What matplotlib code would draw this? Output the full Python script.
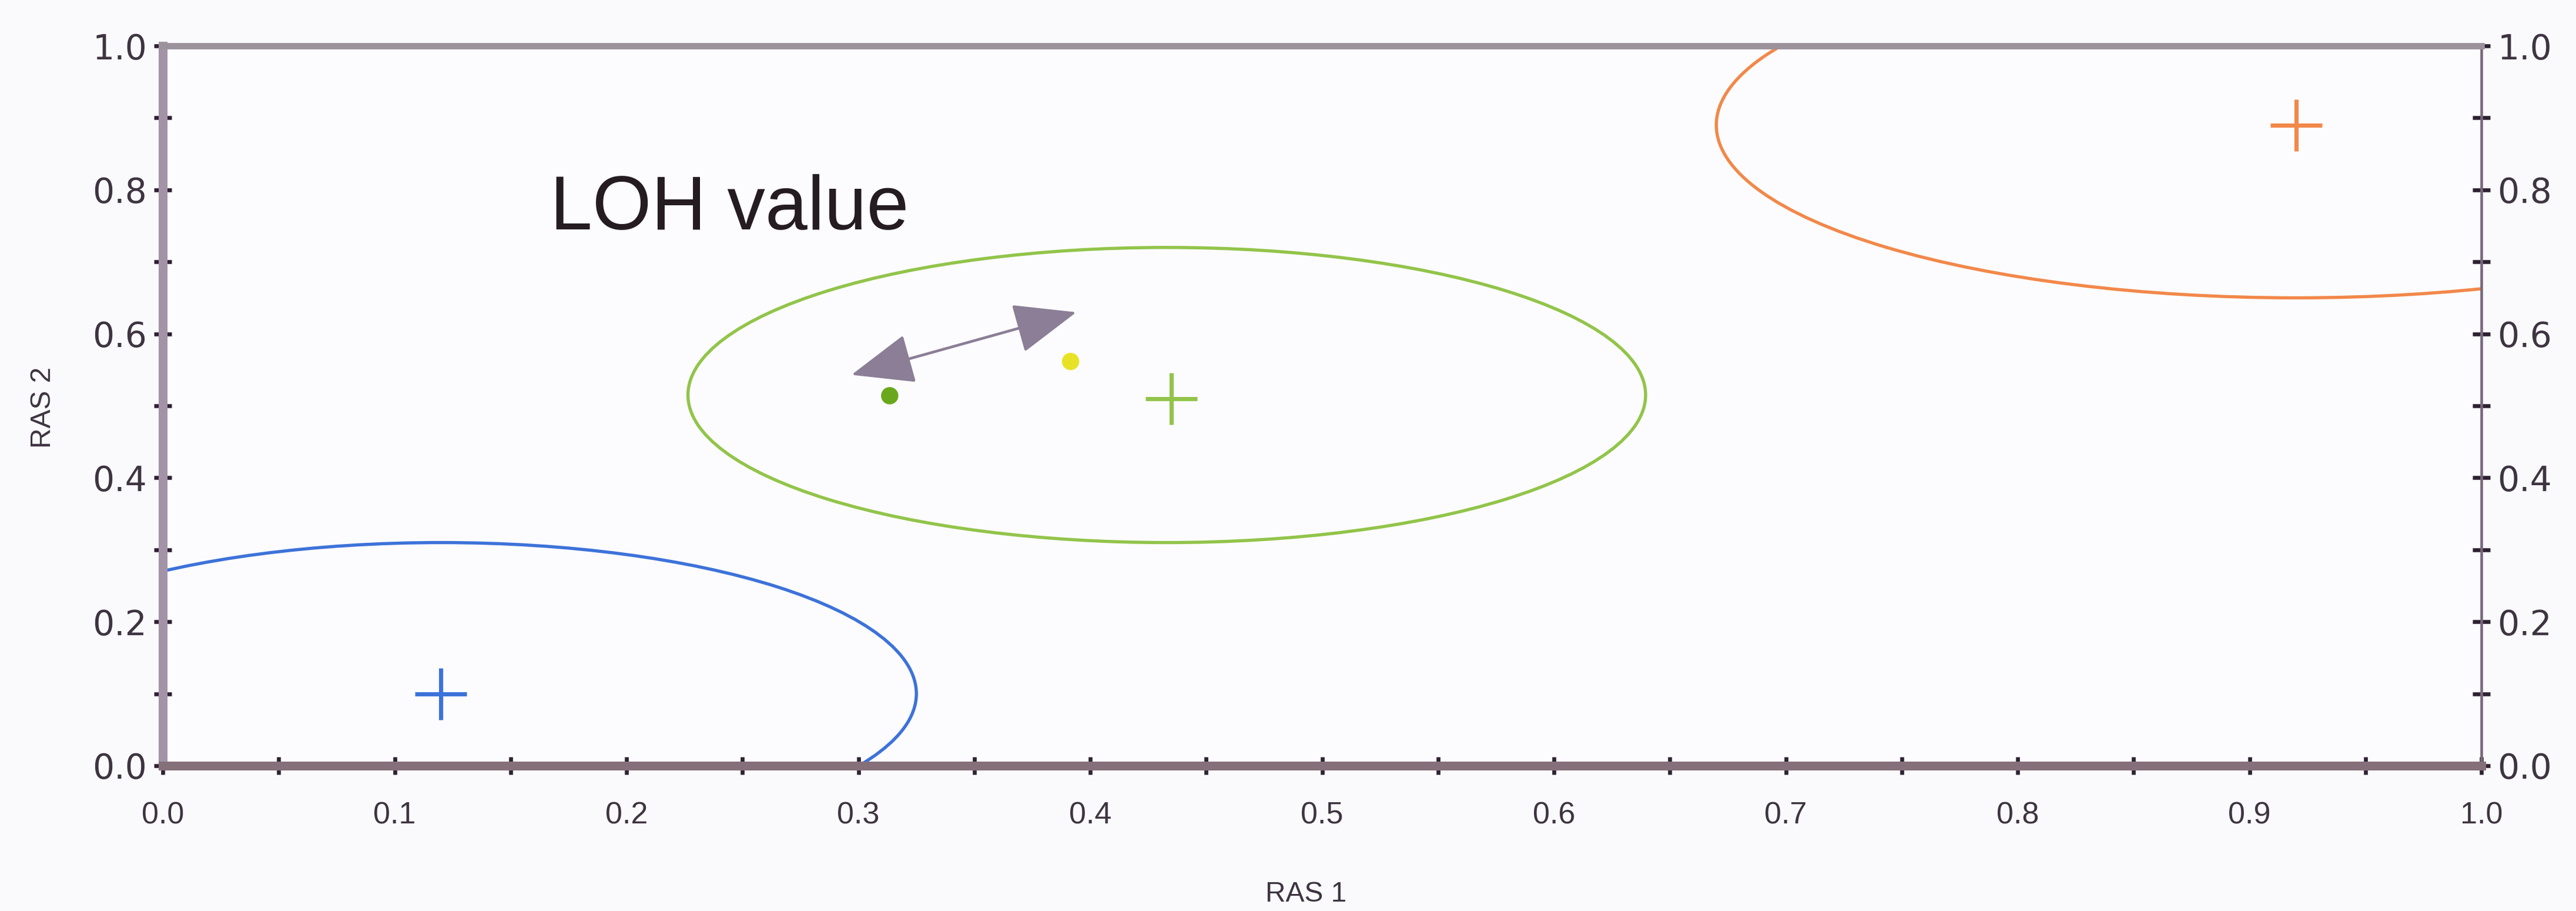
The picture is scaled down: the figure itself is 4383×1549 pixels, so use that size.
import matplotlib
matplotlib.use("Agg")
import matplotlib.pyplot as plt
from matplotlib.patches import Ellipse
from matplotlib.ticker import MultipleLocator

# cluster centres (crosses) and their ellipses, in RAS 1 / RAS 2 units
cluster_colors = ["#3d72d9", "#92c44a", "#f2884a"]
center_x = [0.12, 0.435, 0.92]
center_y = [0.10, 0.51, 0.89]
ellipse_x = [0.12, 0.433, 0.92]
ellipse_y = [0.10, 0.515, 0.89]
ellipse_w = [0.41, 0.413, 0.50]
ellipse_h = [0.42, 0.41, 0.48]

# the two samples
sample_x = [0.3135, 0.3915]
sample_y = [0.514, 0.5616]
sample_colors = ["#69a81c", "#e8e226"]

# LOH arrow, from tip to tip
arrow_start = (0.297, 0.543)
arrow_end = (0.394, 0.630)
note_text = "LOH value"
note_pos = (0.167, 0.745)

x_ticks = [0.0, 0.1, 0.2, 0.3, 0.4, 0.5, 0.6, 0.7, 0.8, 0.9, 1.0]
y_ticks = [0.0, 0.2, 0.4, 0.6, 0.8, 1.0]
x_label = "RAS 1"
y_label = "RAS 2"

NARROW = ["Liberation Sans Narrow", "Liberation Sans", "DejaVu Sans"]
LABEL_COLOR = "#3e3441"

fig = plt.figure(figsize=(4383 / 300, 1549 / 300), dpi=300, facecolor="#fafafc")
ax = fig.add_axes([0.0632, 0.1595, 0.9001, 0.7901], facecolor="#fcfcfe")

for cx, cy, w, h, c in zip(ellipse_x, ellipse_y, ellipse_w, ellipse_h, cluster_colors):
    ax.add_patch(Ellipse((cx, cy), w, h, fill=False, edgecolor=c, linewidth=1.3))
for cx, cy, c in zip(center_x, center_y, cluster_colors):
    ax.plot(cx, cy, marker="+", markersize=21, markeredgewidth=1.7, color=c, linestyle="none")

ax.scatter(sample_x, sample_y, s=50, c=sample_colors, marker="o", linewidths=0, zorder=3)

ax.annotate("", xy=arrow_end, xytext=arrow_start,
            arrowprops=dict(arrowstyle="<|-|>,head_length=0.45,head_width=0.18",
                            mutation_scale=50, color="#8c7e96", linewidth=1.1,
                            shrinkA=0, shrinkB=0))
ax.text(note_pos[0], note_pos[1], note_text, fontsize=31, color="#251c22",
        family=["Liberation Sans", "DejaVu Sans"], ha="left", va="baseline")

ax.set_xlim(0, 1)
ax.set_ylim(0, 1)
ax.set_xticks(x_ticks)
ax.set_xticklabels([f"{v:.1f}" for v in x_ticks], family=NARROW, fontsize=12.5, color=LABEL_COLOR)
ax.set_yticks(y_ticks)
ax.set_yticklabels([f"{v:.1f}" for v in y_ticks], family=["DejaVu Sans"], fontsize=14,
                   color=LABEL_COLOR)
ax.xaxis.set_minor_locator(MultipleLocator(0.05))
ax.yaxis.set_minor_locator(MultipleLocator(0.1))
ax.tick_params(axis="both", which="both", direction="inout", width=1.6, color="#2e2232")
ax.tick_params(axis="x", which="both", top=False, length=7, pad=11)
ax.tick_params(axis="y", which="both", left=True, right=True, labelright=True, length=7, pad=3)

ax.spines["left"].set_linewidth(3.6)
ax.spines["left"].set_color("#a294a6")
ax.spines["bottom"].set_linewidth(3.6)
ax.spines["bottom"].set_color("#85707a")
ax.spines["top"].set_linewidth(2.6)
ax.spines["top"].set_color("#9c929c")
ax.spines["right"].set_linewidth(1.1)
ax.spines["right"].set_color("#76687a")

ax.set_xlabel(x_label, family=NARROW, fontsize=11.5, color=LABEL_COLOR)
ax.xaxis.set_label_coords(0.493, -0.16)
ax.set_ylabel(y_label, family=NARROW, fontsize=11.5, color=LABEL_COLOR)
ax.yaxis.set_label_coords(-0.046, 0.4975)

fig.savefig("out.png", dpi=300, facecolor=fig.get_facecolor())
